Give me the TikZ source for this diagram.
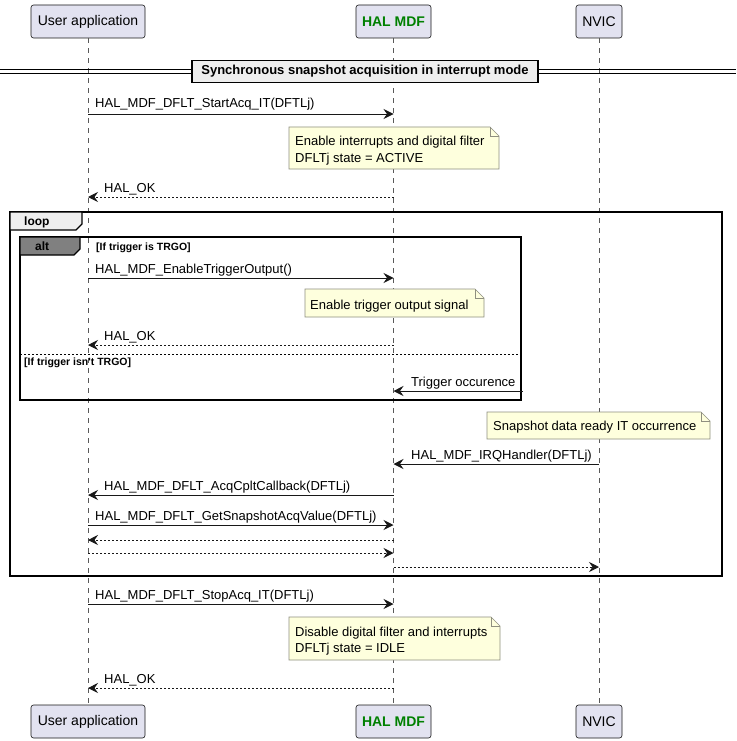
\documentclass[tikz,border=0pt]{standalone}
\usepackage{fontspec}
\setmainfont{Liberation Sans}[Ligatures=TeXOff]
\usetikzlibrary{arrows.meta,calc}
\definecolor{partfill}{HTML}{E2E2F0}
\definecolor{partdraw}{HTML}{181818}
\definecolor{notefill}{HTML}{FEFFDD}
\definecolor{notedraw}{HTML}{8F8F80}
\definecolor{grpfill}{HTML}{EEEEEE}
\definecolor{altfill}{HTML}{808080}
\definecolor{halgreen}{HTML}{008000}
\newcommand{\msgfont}{\fontsize{13}{15}\selectfont}
\newcommand{\guardfont}{\fontsize{10.5}{12}\selectfont\bfseries}
\tikzset{
  part/.style={draw=partdraw, fill=partfill, rounded corners=2.5pt, line width=0.6pt,
    minimum height=33pt, inner sep=0pt, font=\fontsize{14}{16}\selectfont},
  life/.style={draw=gray!70!black, line width=0.5pt, dash pattern=on 5pt off 5pt},
  call/.style={draw=partdraw, line width=0.9pt, -{Stealth[length=10pt,width=10pt,inset=3.5pt]}},
  ret/.style={call, dash pattern=on 2pt off 2pt},
  lbl/.style={anchor=base west, inner sep=0pt, font=\msgfont},
  notebox/.style={draw=notedraw, fill=notefill, line width=0.6pt},
  notetext/.style={anchor=base west, inner sep=0pt, font=\msgfont, align=left},
  frame/.style={draw=black, line width=1.4pt},
}
\newcommand{\notepath}[4]{% x1 y1 x2 y2
  \path[notebox] (#1,#2) -- ({#3-9},#2) -- (#3,{#2+9}) -- (#3,#4) -- (#1,#4) -- cycle;
  \draw[notedraw, line width=0.6pt] ({#3-9},#2) -- ({#3-9},{#2+9}) -- (#3,{#2+9});
}
\begin{document}
\begin{tikzpicture}[x=1pt,y=-1pt]
\useasboundingbox[fill=white] (0,0) rectangle (736,741);

% participants
\node[part, minimum width=114pt] (uaT) at (88,21.5) {User application};
\node[part, minimum width=75pt, text=halgreen, font=\fontsize{14}{16}\selectfont\bfseries] (halT) at (393.5,21.5) {HAL MDF};
\node[part, minimum width=46pt] (nvT) at (599,21.5) {NVIC};
\node[part, minimum width=114pt] (uaB) at (88,721.5) {User application};
\node[part, minimum width=75pt, text=halgreen, font=\fontsize{14}{16}\selectfont\bfseries] (halB) at (393.5,721.5) {HAL MDF};
\node[part, minimum width=46pt] (nvB) at (599,721.5) {NVIC};

% lifelines
\draw[life] (uaT.south) -- (uaB.north);
\draw[life] (halT.south) -- (halB.north);
\draw[life] (nvT.south) -- (nvB.north);

% divider
\draw[black, line width=0.9pt] (0,69.5) -- (736,69.5);
\draw[black, line width=0.9pt] (0,73.5) -- (736,73.5);
\node[draw=black, line width=1.4pt, fill=grpfill, minimum width=346pt, minimum height=22pt, inner sep=0pt,
  font=\fontsize{13}{15}\selectfont\bfseries] (div) at (365,71.5) {Synchronous snapshot acquisition in interrupt mode};

% message 1
\draw[call] (uaT |- 0,114) -- (halT |- 0,114);
\node[lbl] (m1) at (95,108) {HAL\_MDF\_DFLT\_StartAcq\_IT(DFTLj)};
\notepath{289}{127}{499}{169}
\node[notetext] (n1a) at (295,146) {Enable interrupts and digital filter};
\node[notetext] (n1b) at (295,162) {DFLTj state = ACTIVE};
\draw[ret] (halT |- 0,197) -- (uaT |- 0,197);
\node[lbl] (m2) at (104,192.5) {HAL\_OK};

% loop frame
\draw[frame] (10,212) rectangle (722,576);
\path[draw=black, line width=1.4pt, fill=grpfill] (10,212) -- (82,212) -- (82,224) -- (76,230) -- (10,230) -- cycle;
\node[anchor=base west, inner sep=0pt, font=\fontsize{12}{14}\selectfont\bfseries] (looplbl) at (24,225.5) {loop};

% alt frame
\draw[frame] (20,237) rectangle (521,400);
\path[draw=black, line width=1.4pt, fill=altfill] (20,237) -- (80,237) -- (80,249) -- (74,255) -- (20,255) -- cycle;
\node[anchor=base west, inner sep=0pt, font=\fontsize{12}{14}\selectfont\bfseries] (altlbl) at (35,250.5) {alt};
\node[anchor=base west, inner sep=0pt, font=\guardfont] (g1) at (96,250) {[If trigger is TRGO]};

\draw[call] (uaT |- 0,278) -- (halT |- 0,278);
\node[lbl] (m3) at (95,273.5) {HAL\_MDF\_EnableTriggerOutput()};
\notepath{305}{289}{484}{317}
\node[notetext] (n2) at (310,309.5) {Enable trigger output signal};
\draw[ret] (halT |- 0,345) -- (uaT |- 0,345);
\node[lbl] (m4) at (104,340) {HAL\_OK};

\draw[black, line width=0.7pt, dash pattern=on 2pt off 2pt] (20,354) -- (521,354);
\node[anchor=base west, inner sep=0pt, font=\guardfont] (g2) at (24,365.5) {[If trigger isn't TRGO]};

\coordinate (trig) at (523,391);
\draw[call] (trig) -- (halT |- trig);
\node[lbl] (m5) at (411,386.5) {Trigger occurence};

\notepath{487}{412}{710}{439}
\node[notetext] (n3) at (493,430) {Snapshot data ready IT occurrence};

\draw[call] (nvT |- 0,464) -- (halT |- 0,464);
\node[lbl] (m6) at (411,459.5) {HAL\_MDF\_IRQHandler(DFTLj)};
\draw[call] (halT |- 0,495) -- (uaT |- 0,495);
\node[lbl] (m7) at (104,490.5) {HAL\_MDF\_DFLT\_AcqCpltCallback(DFTLj)};
\draw[call] (uaT |- 0,525) -- (halT |- 0,525);
\node[lbl] (m8) at (95,520.5) {HAL\_MDF\_DFLT\_GetSnapshotAcqValue(DFTLj)};
\draw[ret] (halT |- 0,540) -- (uaT |- 0,540);
\draw[ret] (uaT |- 0,553) -- (halT |- 0,553);
\draw[ret] (halT |- 0,567) -- (nvT |- 0,567);

% stop
\draw[call] (uaT |- 0,604) -- (halT |- 0,604);
\node[lbl] (m9) at (95,599.5) {HAL\_MDF\_DFLT\_StopAcq\_IT(DFTLj)};
\notepath{289}{617}{500}{660}
\node[notetext] (n4a) at (295,636.5) {Disable digital filter and interrupts};
\node[notetext] (n4b) at (295,652.5) {DFLTj state = IDLE};
\draw[ret] (halT |- 0,688) -- (uaT |- 0,688);
\node[lbl] (m10) at (104,683) {HAL\_OK};
\end{tikzpicture}
\end{document}
